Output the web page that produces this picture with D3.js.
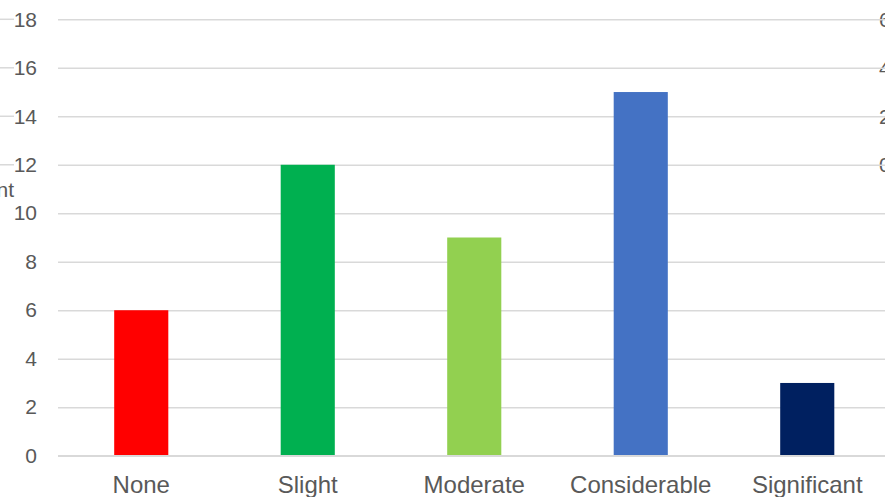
<!DOCTYPE html>
<html>
<head>
<meta charset="utf-8">
<script src="https://cdn.jsdelivr.net/npm/d3@7.9.0/dist/d3.min.js"></script>
<style>
  html, body { margin: 0; padding: 0; background: #fff; overflow: hidden; }
  text { font-family: "Liberation Sans", Arial, sans-serif; fill: #595959; }
</style>
</head>
<body>
<div id="chart"></div>
<script>
// chart data
const categories = ["None", "Slight", "Moderate", "Considerable", "Significant"];
const counts = [6, 12, 9, 15, 3];
const barColors = ["#ff0000", "#00b050", "#92d050", "#4472c4", "#002060"];
const yTicks = [0, 2, 4, 6, 8, 10, 12, 14, 16, 18];
// labels of the chart sitting behind, cut by the right edge
const backTicks = ["6", "4", "2", "0"];

const width = 885;
const height = 497;
const margin = { top: 19.3, right: -5, bottom: 41.3, left: 58 };

const svg = d3.select("#chart")
    .append("svg")
    .attr("width", width)
    .attr("height", height);

// scales
const xScale = d3.scaleBand()
    .domain(categories)
    .range([margin.left, width - margin.right + 0.5])
    .paddingInner(0.675)
    .paddingOuter(0.3375);

const yScale = d3.scaleLinear()
    .domain([0, 18])
    .range([height - margin.bottom, margin.top]);

// the chart behind: its gridlines poke out at both edges
const back = svg.append("g");
back.selectAll("line")
    .data(backTicks)
    .join("line")
    .attr("x1", 0)
    .attr("x2", 14)
    .attr("y1", (d, i) => yScale(18 - i * 2))
    .attr("y2", (d, i) => yScale(18 - i * 2))
    .attr("stroke", "#d9d9d9")
    .attr("stroke-width", 1.5);
back.selectAll("text")
    .data(backTicks)
    .join("text")
    .attr("x", 879)
    .attr("y", (d, i) => yScale(18 - i * 2))
    .attr("dy", "0.35em")
    .style("font-size", "21px")
    .text(d => d);

// gridlines
const grid = svg.append("g")
    .attr("transform", `translate(${margin.left}, 0)`)
    .call(d3.axisLeft(yScale).tickValues(yTicks).tickFormat("").tickSize(-(width - margin.left)));
grid.select(".domain").remove();
grid.selectAll("line").attr("stroke", "#d9d9d9").attr("stroke-width", 1.5);

// y axis labels
const yAxis = svg.append("g")
    .attr("transform", `translate(37, 0)`)
    .call(d3.axisLeft(yScale).tickValues(yTicks).tickSize(0).tickPadding(0));
yAxis.select(".domain").remove();
yAxis.selectAll("text")
    .attr("fill", "#595959")
    .style("font-family", "'Liberation Sans', Arial, sans-serif")
    .style("font-size", "21px");

// y axis title, mostly cut off
svg.append("text")
    .attr("x", 14)
    .attr("y", 197)
    .attr("text-anchor", "end")
    .style("font-size", "21px")
    .text("Count");

// bars
svg.append("g")
    .selectAll("rect")
    .data(categories)
    .join("rect")
    .attr("x", d => xScale(d))
    .attr("y", (d, i) => yScale(counts[i]))
    .attr("width", xScale.bandwidth())
    .attr("height", (d, i) => yScale(0) - yScale(counts[i]))
    .attr("fill", (d, i) => barColors[i]);

// x axis
const xAxis = svg.append("g")
    .attr("transform", `translate(0, ${yScale(0)})`)
    .call(d3.axisBottom(xScale).tickSize(0).tickPadding(0));
xAxis.select(".domain")
    .attr("d", `M${margin.left},0H${width}`)
    .attr("stroke", "#d9d9d9")
    .attr("stroke-width", 1.5);
xAxis.selectAll("text")
    .attr("y", 37)
    .attr("dy", 0)
    .attr("fill", "#595959")
    .style("font-family", "'Liberation Sans', Arial, sans-serif")
    .style("font-size", "24px");
</script>
</body>
</html>
